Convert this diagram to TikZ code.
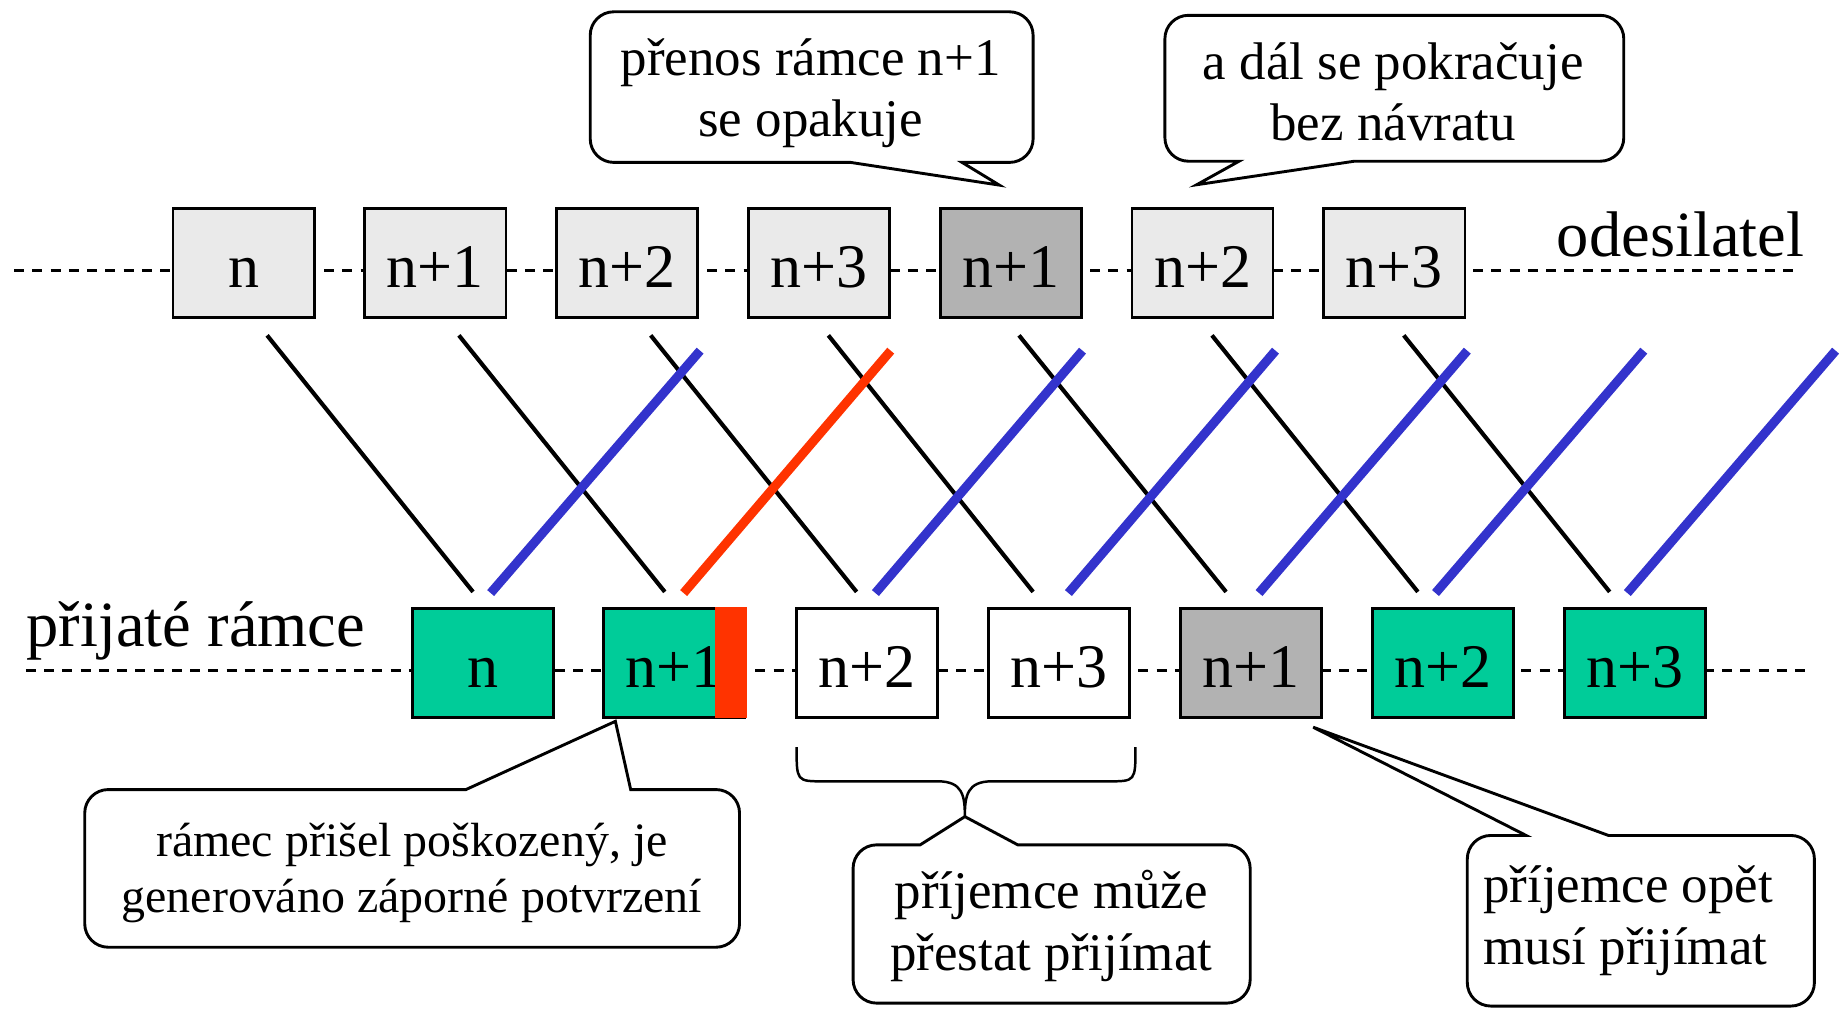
\documentclass[tikz,border=0pt]{standalone}
\usepackage{fontspec}
\setmainfont{Liberation Serif}
\usepackage{tikz}
\usetikzlibrary{positioning}
\definecolor{paleGray}{HTML}{EAEAEA}
\definecolor{midGray}{HTML}{B2B2B2}
\definecolor{okGreen}{HTML}{00CC99}
\definecolor{errRed}{HTML}{FF3300}
\definecolor{ackBlue}{HTML}{3333CC}
\newcommand{\framefont}{\fontsize{15}{18}\selectfont}
\newcommand{\labelfont}{\fontsize{15.6}{18}\selectfont}
\newcommand{\notefont}{\fontsize{12.8}{14.8}\selectfont}
\newcommand{\smallnotefont}{\fontsize{11.6}{13.7}\selectfont}
\tikzset{
  frame/.style={rectangle, draw=black, line width=0.65pt, minimum width=12mm,
                minimum height=9.3mm, inner sep=0pt, text height=4.2mm,
                text depth=0pt, font=\framefont},
  timeline/.style={line width=0.7pt, dash pattern=on 0.85mm off 0.7mm},
  dataline/.style={line width=1pt, draw=black},
  ackline/.style={line width=2.2pt, draw=ackBlue},
  nakline/.style={line width=2.2pt, draw=errRed},
  bubble/.style={draw=black, fill=white, line width=0.7pt},
  note/.style={align=center, font=\notefont, inner sep=0pt}
}
\begin{document}
\begin{tikzpicture}[x=0.1mm,y=-0.1mm]
\useasboundingbox (0,0) rectangle (1568,858);
% time lines
\draw[timeline] (12,229.5) -- (1530,229.5);
\draw[timeline] (22,569.5) -- (1540,569.5);
\node[font=\labelfont, anchor=base east, inner sep=0pt] (sender) at (1534,218) {odesilatel};
\node[font=\labelfont, anchor=base west, inner sep=0pt] (receiver) at (22,549) {přijaté rámce};
% sent frames
\node[frame, fill=paleGray] (s1) at (207,223.5) {n};
\node[frame, fill=paleGray] (s2) at (370,223.5) {n+1};
\node[frame, fill=paleGray] (s3) at (533,223.5) {n+2};
\node[frame, fill=paleGray] (s4) at (696,223.5) {n+3};
\node[frame, fill=midGray] (s5) at (859,223.5) {n+1};
\node[frame, fill=paleGray] (s6) at (1022,223.5) {n+2};
\node[frame, fill=paleGray] (s7) at (1185,223.5) {n+3};
% received frames
\node[frame, fill=okGreen] (r1) at (410.5,563.5) {n};
\node[frame, fill=okGreen] (r2) at (573,563.5) {n+1};
\fill[errRed] (607.7,515.6) rectangle (634.6,610.5);
\node[frame, fill=white] (r3) at (737,563.5) {n+2};
\node[frame, fill=white] (r4) at (900,563.5) {n+3};
\node[frame, fill=midGray] (r5) at (1063,563.5) {n+1};
\node[frame, fill=okGreen] (r6) at (1226.5,563.5) {n+2};
\node[frame, fill=okGreen] (r7) at (1389.5,563.5) {n+3};
% data frames on the wire
\foreach \a/\b in {227/402,390/565,553/728,704/878,866/1042,1030/1205,1193/1368}
  \draw[dataline] (\a,285) -- (\b,503);
% acknowledgements
\foreach \a/\b in {417/595,744/920,908/1084,1070/1247,1220/1397,1383/1560}
  \draw[ackline] (\a,504) -- (\b,298);
\draw[nakline] (581,504) -- (757,298);
% callouts
\draw[bubble] (722.8,138) -- (849.3,157.3) -- (817.6,138) [rounded corners=2mm]
  -- (878,138) -- (878,10) -- (501.6,10) -- (501.6,138) [sharp corners] -- cycle;
\draw[bubble] (1151,137) -- (1017,157) -- (1053,137) [rounded corners=2mm]
  -- (990,137) -- (990,13) -- (1380,13) -- (1380,137) [sharp corners] -- cycle;
\draw[bubble] (536,671) -- (523,613) -- (396,671) [rounded corners=2mm]
  -- (72,671) -- (72,805) -- (628.5,805) -- (628.5,671) [sharp corners] -- cycle;
\draw[bubble] (865,718) -- (820,694) -- (782,718) [rounded corners=2mm]
  -- (725,718) -- (725,852.5) -- (1062.5,852.5) -- (1062.5,718) [sharp corners] -- cycle;
\draw[bubble] (1367,710) -- (1116,618) -- (1297,710) [rounded corners=2mm]
  -- (1247,710) -- (1247,855) -- (1542,855) -- (1542,710) [sharp corners] -- cycle;
\draw[line width=0.6pt] (677,635) .. controls (677,664) .. (700,664) -- (797,664)
  .. controls (818,664) and (820,676) .. (820,694)
  .. controls (820,676) and (822,664) .. (843,664) -- (942,664)
  .. controls (965,664) .. (965,635);
\node[note] (repeatnote) at (689,79) {přenos rámce n+1\\se opakuje};
\node[note] (onwardnote) at (1184,78) {a dál se pokračuje\\bez návratu};
\node[note, font=\smallnotefont] (damagenote) at (350,742) {rámec přišel poškozený, je\\generováno záporné potvrzení};
\node[note] (pausenote) at (893.5,787) {příjemce může\\přestat přijímat};
\node[note, align=left, anchor=west] (resumenote) at (1260,782.5) {příjemce opět\\musí přijímat};
\end{tikzpicture}
\end{document}
